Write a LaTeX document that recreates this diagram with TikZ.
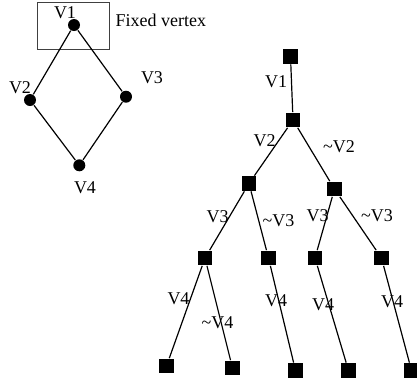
\documentclass[tikz,border=0pt]{standalone}
\usepackage{fontspec}
\setmainfont{Liberation Serif}
\usepackage{tikz}
\usetikzlibrary{calc}
\usetikzlibrary{shapes}
\newcommand{\gvertex}[3]{\node[shape=circle,draw=none,fill=black,inner sep=0pt,minimum size=12pt] (#1) at ( #2 , #3 ) {};}
\newcommand{\tvertex}[3]{\node[shape=rectangle,draw=none,fill=black,inner sep=0pt,minimum size=14.5pt] (#1) at ( #2 , #3 ) {};}
\newcommand{\lbl}[4]{\node[anchor=base,inner sep=0pt] (#1) at ( #2 , #3 ) {#4};}
\newcommand{\nt}{\textasciitilde}

\begin{document}
\begin{tikzpicture}[x=1pt,y=-1pt,line width=1.2pt,font=\fontsize{18}{20}\selectfont]
\useasboundingbox (0,0) rectangle (417,381);
% fixed vertex box
\draw[line width=0.8pt,black!75] (37.3,2.7) rectangle (109.3,49.3);
\node[anchor=base west,inner sep=0pt] (fixed) at (115,26) {Fixed vertex};
% graph vertices
\gvertex{g1}{74}{25}
\gvertex{g2}{30}{100}
\gvertex{g3}{126}{96.7}
\gvertex{g4}{79.3}{165.3}
\draw (g1) -- (g2) -- (g4) -- (g3) -- (g1);
% graph labels
\lbl{gl1}{65}{18}{V1}
\lbl{gl2}{20}{93}{V2}
\lbl{gl3}{152}{83}{V3}
\lbl{gl4}{85}{193}{V4}
% tree rows 0 and 1
\tvertex{r}{290.5}{56.5}
\tvertex{a}{293}{120}
% tree row 2
\tvertex{b1}{249}{183.5}
\tvertex{b2}{334.5}{189}
% tree row 3
\tvertex{c1}{205}{258}
\tvertex{c2}{268.5}{258}
\tvertex{c3}{315}{258}
\tvertex{c4}{381.5}{258}
% tree leaves
\tvertex{d1}{166.5}{366}
\tvertex{d2}{232.5}{368}
\tvertex{d3}{295.5}{370.5}
\tvertex{d4}{348.5}{370.5}
\tvertex{d5}{411.5}{370.5}
% tree edges
\draw (r) -- (a);
\draw (a) -- (b1);
\draw (a) -- (b2);
\draw (b1) -- (c1);
\draw (b1) -- (c2);
\draw (b2) -- (c3);
\draw (b2) -- (c4);
\draw (c1) -- (d1);
\draw (c1) -- (d2);
\draw (c2) -- (d3);
\draw (c3) -- (d4);
\draw (c4) -- (d5);
% tree labels
\lbl{tl1}{276}{87}{V1}
\lbl{tl2}{264.5}{146}{V2}
\lbl{tl3}{339}{152}{\nt V2}
\lbl{tl4}{217.5}{222}{V3}
\lbl{tl5}{278.5}{226}{\nt V3}
\lbl{tl6}{317.5}{221}{V3}
\lbl{tl7}{377}{221}{\nt V3}
\lbl{tl8}{178.5}{304}{V4}
\lbl{tl9}{217.5}{328}{\nt V4}
\lbl{tl10}{276}{306}{V4}
\lbl{tl11}{323}{310}{V4}
\lbl{tl12}{392}{307}{V4}
\end{tikzpicture}
\end{document}
